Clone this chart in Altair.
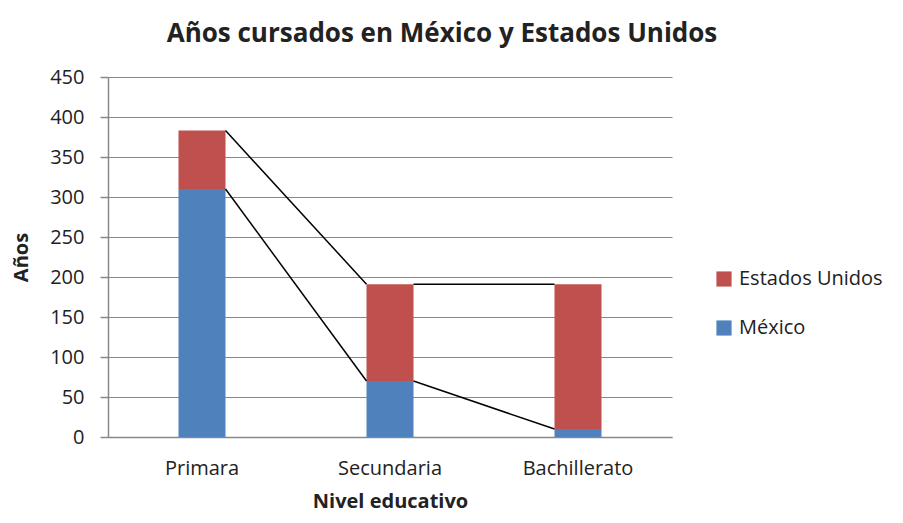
import altair as alt
import pandas as pd

categories = ["Primara", "Secundaria", "Bachillerato"]
mexico = [310, 70, 10]
estados_unidos = [73, 121, 181]
series_names = ["Estados Unidos", "México"]
colors = ["#C0504D", "#4F81BD"]
y_ticks = [0, 50, 100, 150, 200, 250, 300, 350, 400, 450]

rows = []
for i, c in enumerate(categories):
    rows.append({"cat": c, "serie": "México", "val": mexico[i], "order": 0})
    rows.append({"cat": c, "serie": "Estados Unidos", "val": estados_unidos[i], "order": 1})
df = pd.DataFrame(rows)

lines = []
for i in range(len(categories) - 1):
    lines.append({"c1": categories[i], "c2": categories[i + 1],
                  "y1": mexico[i], "y2": mexico[i + 1]})
    lines.append({"c1": categories[i], "c2": categories[i + 1],
                  "y1": mexico[i] + estados_unidos[i],
                  "y2": mexico[i + 1] + estados_unidos[i + 1]})
ldf = pd.DataFrame(lines)

FONT = "Open Sans"
xscale = alt.Scale(domain=categories, paddingInner=0, paddingOuter=0)
yscale = alt.Scale(domain=[0, 450], nice=False)

xaxis = alt.Axis(title="Nivel educativo", labelAngle=0, ticks=False,
                 labelPadding=21, titlePadding=13, grid=False)
yaxis = alt.Axis(title="Años", values=y_ticks, tickSize=8, labelPadding=16,
                 labelOverlap=False, grid=True, titlePadding=18)

bars = alt.Chart(df).mark_bar(size=47).encode(
    x=alt.X("cat:N", scale=xscale, sort=categories, axis=xaxis),
    y=alt.Y("val:Q", stack="zero", scale=yscale, axis=yaxis),
    color=alt.Color("serie:N", scale=alt.Scale(domain=series_names, range=colors),
                    legend=alt.Legend(title=None, orient="none", legendX=606, legendY=192,
                                      symbolType="square", symbolSize=230,
                                      symbolStrokeWidth=0, labelFontSize=20,
                                      labelColor="#222", rowPadding=29,
                                      labelOffset=5)),
    order=alt.Order("order:Q"),
)

rules = alt.Chart(ldf).mark_rule(color="black", strokeWidth=1.5,
                                 xOffset=23.5, x2Offset=-23.5).encode(
    x=alt.X("c1:N", scale=xscale, sort=categories, axis=xaxis),
    x2="c2:N",
    y=alt.Y("y1:Q", scale=yscale, axis=yaxis),
    y2="y2:Q",
)

chart = alt.layer(bars, rules).properties(
    width=564, height=360,
    autosize=alt.AutoSizeParams(type="none"),
    padding={"left": 100, "top": 69, "right": 223, "bottom": 86},
    title=alt.TitleParams("Años cursados en México y Estados Unidos", fontSize=26,
                          fontWeight="bold", color="#222", anchor="middle",
                          frame="group", dx=52, offset=20, font=FONT),
).configure(font=FONT).configure_view(stroke=None).configure_axis(
    labelFontSize=20, labelColor="#222", titleFontSize=20, titleFontWeight="bold",
    titleColor="#222", domainColor="#888", domainWidth=1.5, tickColor="#888",
    tickWidth=1.5, gridColor="#888", gridWidth=1.2,
)

chart.save("out.html", embed_options={"renderer": "svg", "actions": False})
